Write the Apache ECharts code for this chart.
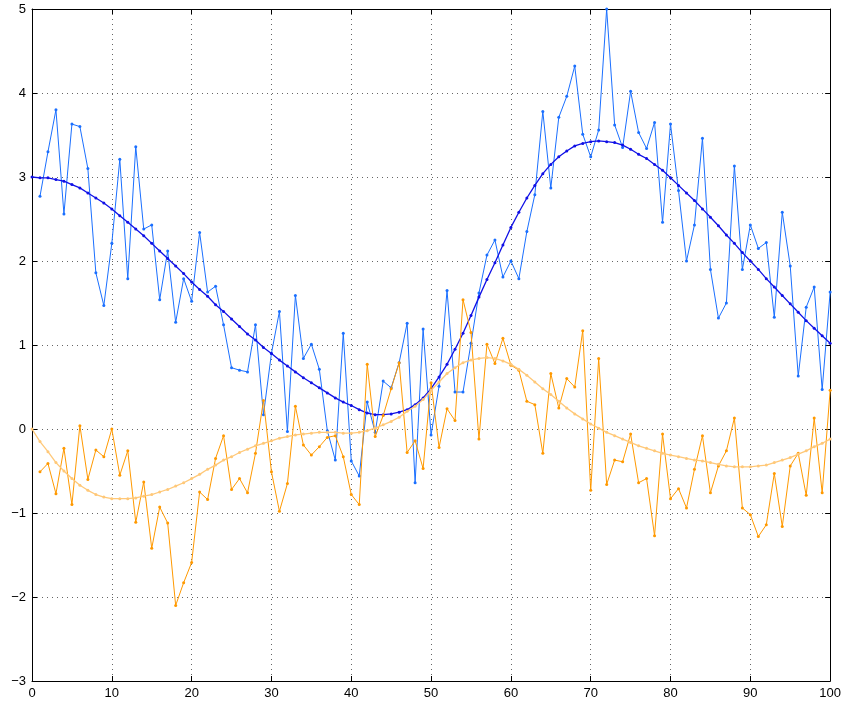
<!DOCTYPE html>
<html>
<head>
<meta charset="utf-8">
<script src="https://cdn.jsdelivr.net/npm/echarts@6/dist/echarts.min.js"></script>
<style>
html,body{margin:0;padding:0;background:#fff;}
#chart{width:844px;height:705px;}
</style>
</head>
<body>
<div id="chart"></div>
<script>
// x positions
var xSmooth = [];
for (var i = 0; i <= 100; i++) xSmooth.push(i);
var xNoisy = xSmooth.slice(1);

var blueNoisy = [2.77,3.30,3.80,2.56,3.63,3.60,3.10,1.86,1.47,2.21,
  3.21,1.79,3.36,2.38,2.43,1.54,2.12,1.27,1.79,1.52,
  2.34,1.63,1.70,1.24,0.73,0.70,0.68,1.24,0.17,0.90,
  1.40,-0.03,1.59,0.84,1.01,0.71,-0.02,-0.37,1.14,-0.38,
  -0.56,0.32,-0.04,0.57,0.49,0.79,1.26,-0.64,1.19,-0.07,
  0.51,1.65,0.44,0.44,1.02,1.62,2.07,2.25,1.81,2.00,
  1.79,2.35,2.79,3.78,2.87,3.71,3.96,4.32,3.51,3.24,
  3.56,5.00,3.62,3.35,4.02,3.53,3.34,3.65,2.46,3.63,
  2.84,2.00,2.43,3.46,1.90,1.32,1.50,3.13,1.90,2.43,
  2.15,2.22,1.33,2.58,1.94,0.63,1.45,1.69,0.47,1.63];

var blueSmooth = [3.00,2.99,2.99,2.97,2.95,2.91,2.87,2.81,2.75,2.69,
  2.62,2.54,2.46,2.38,2.30,2.21,2.12,2.03,1.94,1.85,
  1.75,1.66,1.58,1.48,1.40,1.31,1.22,1.13,1.06,0.97,
  0.90,0.82,0.75,0.68,0.61,0.55,0.49,0.43,0.37,0.32,
  0.28,0.23,0.19,0.17,0.17,0.18,0.20,0.23,0.29,0.37,
  0.48,0.62,0.77,0.95,1.14,1.35,1.57,1.78,1.98,2.19,
  2.40,2.58,2.75,2.90,3.04,3.15,3.24,3.31,3.37,3.40,
  3.42,3.43,3.42,3.41,3.38,3.33,3.27,3.22,3.15,3.08,
  2.99,2.90,2.81,2.72,2.62,2.52,2.42,2.31,2.21,2.10,
  2.00,1.90,1.79,1.69,1.59,1.49,1.39,1.29,1.20,1.11,1.02];

var orangeNoisy = [-0.51,-0.41,-0.77,-0.23,-0.90,0.04,-0.60,-0.25,-0.33,0.00,
  -0.55,-0.26,-1.11,-0.63,-1.42,-0.93,-1.12,-2.10,-1.83,-1.59,
  -0.75,-0.84,-0.35,-0.08,-0.72,-0.59,-0.76,-0.29,0.34,-0.51,
  -0.98,-0.65,0.27,-0.19,-0.31,-0.21,-0.10,-0.08,-0.33,-0.78,
  -0.90,0.77,-0.09,0.16,0.48,0.79,-0.28,-0.14,-0.47,0.55,
  -0.22,0.24,0.10,1.54,1.15,-0.12,1.01,0.78,1.08,0.76,
  0.70,0.33,0.29,-0.29,0.66,0.25,0.60,0.50,1.17,-0.73,
  0.84,-0.66,-0.37,-0.39,-0.06,-0.64,-0.59,-1.27,-0.06,-0.83,
  -0.71,-0.94,-0.48,-0.08,-0.76,-0.44,-0.26,0.13,-0.94,-1.02,
  -1.28,-1.14,-0.53,-1.16,-0.44,-0.29,-0.79,0.13,-0.76,0.46];

var orangeSmooth = [0.00,-0.15,-0.27,-0.40,-0.50,-0.59,-0.67,-0.73,-0.78,-0.81,
  -0.83,-0.83,-0.83,-0.82,-0.80,-0.78,-0.75,-0.72,-0.68,-0.64,
  -0.59,-0.54,-0.48,-0.43,-0.37,-0.33,-0.28,-0.24,-0.20,-0.17,
  -0.14,-0.11,-0.09,-0.07,-0.06,-0.05,-0.04,-0.04,-0.04,-0.05,
  -0.05,-0.04,-0.02,0.01,0.05,0.09,0.14,0.21,0.27,0.35,
  0.46,0.56,0.66,0.73,0.79,0.82,0.84,0.85,0.84,0.81,
  0.77,0.71,0.64,0.56,0.48,0.41,0.33,0.25,0.18,0.12,
  0.06,0.01,-0.04,-0.08,-0.12,-0.16,-0.20,-0.23,-0.26,-0.29,
  -0.31,-0.33,-0.35,-0.37,-0.38,-0.40,-0.42,-0.44,-0.45,-0.45,
  -0.45,-0.44,-0.43,-0.40,-0.37,-0.34,-0.30,-0.26,-0.21,-0.17,-0.12];

function pairs(xs, ys) {
  var out = [];
  for (var i = 0; i < ys.length; i++) out.push([xs[i], ys[i]]);
  return out;
}

var chart = echarts.init(document.getElementById('chart'), null, {renderer: 'canvas'});

var labelStyle = {color: '#000', fontFamily: 'Liberation Sans, Arial, sans-serif', fontSize: 13};
var gridLine = {show: true, lineStyle: {color: '#666', width: 1, type: [1, 4]}};
var axisLine = {show: true, onZero: false, lineStyle: {color: '#000', width: 1}};
var tick = {show: true, inside: true, length: 5, lineStyle: {color: '#000'}};

function lineSeries(data, color, width, z) {
  return {
    type: 'line', data: data, symbol: 'circle', symbolSize: 3, showSymbol: true,
    lineStyle: {color: color, width: width}, itemStyle: {color: color},
    animation: false, silent: true, z: z
  };
}

chart.setOption({
  animation: false,
  backgroundColor: '#fff',
  grid: {left: 32, right: 12, top: 9, bottom: 24, containLabel: false},
  xAxis: [{
    type: 'value', min: 0, max: 100, interval: 10, position: 'bottom',
    axisLine: axisLine, axisTick: tick, splitLine: gridLine,
    axisLabel: Object.assign({margin: 6}, labelStyle)
  }, {
    type: 'value', min: 0, max: 100, interval: 10, position: 'top',
    axisLine: axisLine, axisTick: tick, splitLine: {show: false}, axisLabel: {show: false}
  }],
  yAxis: [{
    type: 'value', min: -3, max: 5, interval: 1, position: 'left',
    axisLine: axisLine, axisTick: tick, splitLine: gridLine,
    axisLabel: Object.assign({margin: 6, formatter: function (v) { return String(v).replace('-', '\u2212'); }}, labelStyle)
  }, {
    type: 'value', min: -3, max: 5, interval: 1, position: 'right',
    axisLine: axisLine, axisTick: tick, splitLine: {show: false}, axisLabel: {show: false}
  }],
  series: [
    lineSeries(pairs(xNoisy, blueNoisy), '#1a6fff', 1, 2),
    lineSeries(pairs(xSmooth, blueSmooth), '#1010e6', 1.3, 3),
    lineSeries(pairs(xNoisy, orangeNoisy), '#ff9900', 1, 4),
    lineSeries(pairs(xSmooth, orangeSmooth), '#ffc878', 1.3, 5)
  ]
});
</script>
</body>
</html>
